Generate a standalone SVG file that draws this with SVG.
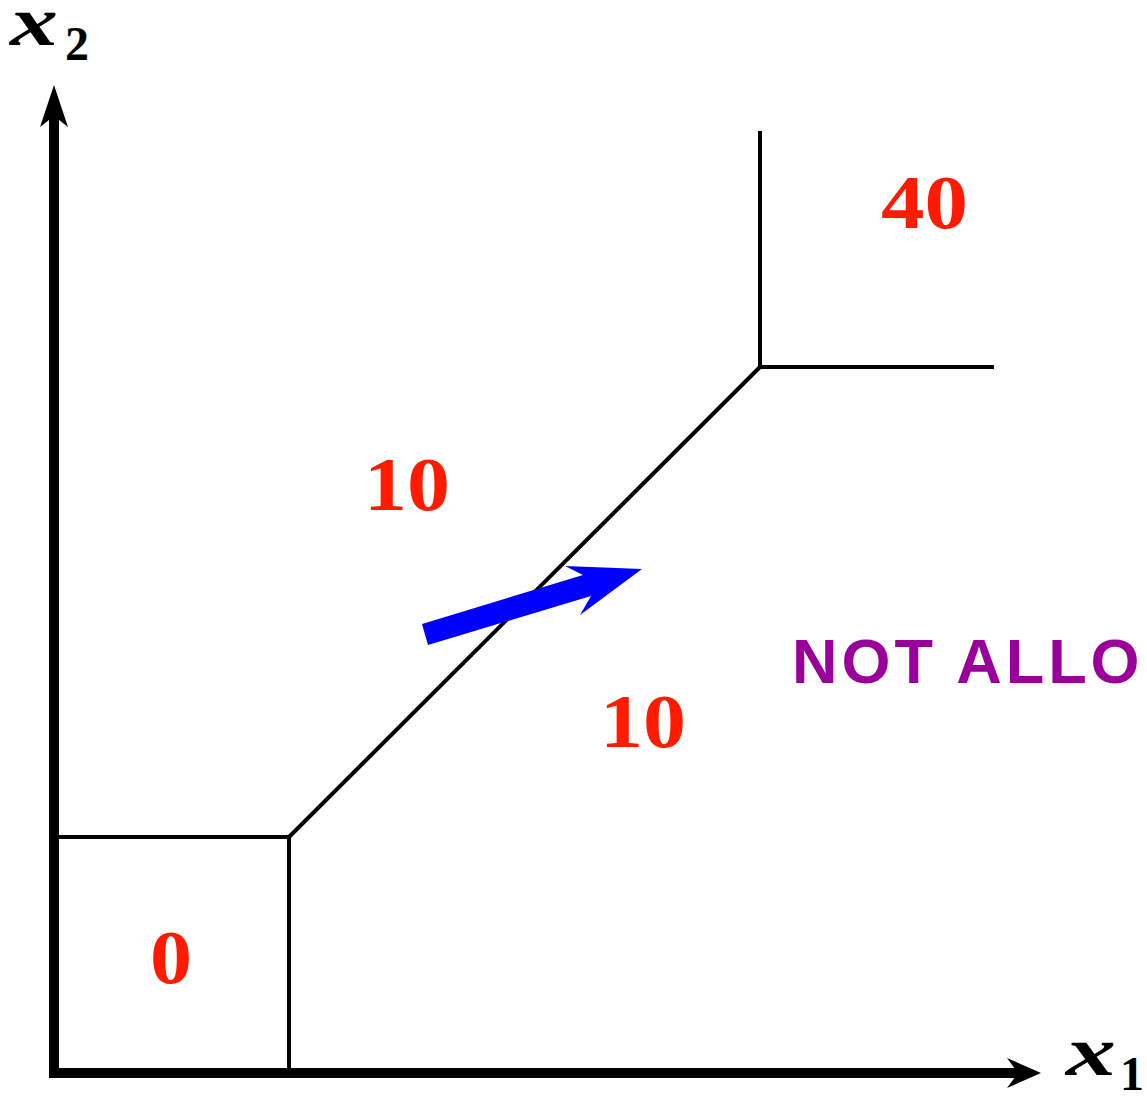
<svg xmlns="http://www.w3.org/2000/svg" width="1147" height="1097" viewBox="0 0 1147 1097">
<style>
.axis{stroke:#000;stroke-width:10;fill:none}
.ln{stroke:#000;stroke-width:4;fill:none}
.num{font-family:"Liberation Serif",serif;font-weight:bold;font-size:76px;fill:#ff1a00}
.var{font-family:"Liberation Serif",serif;font-weight:bold;font-style:italic;font-size:70px;fill:#000}
.sub{font-family:"Liberation Serif",serif;font-weight:bold;font-size:48px;fill:#000}
</style>
<rect width="1147" height="1097" fill="#fff"/>
<g id="connectors">
<line class="axis" x1="54" y1="1078" x2="54" y2="110"/>
<line class="axis" x1="49" y1="1073" x2="1020" y2="1073"/>
<polygon points="54,85 68,127 54,116 40,127" fill="#000"/>
<polygon points="1041,1073 1007,1058 1018,1073 1007,1088" fill="#000"/>
<polyline class="ln" points="59,837 289,837 289,1073"/>
<line class="ln" x1="289" y1="837" x2="760" y2="367"/>
<line class="ln" x1="760" y1="131" x2="760" y2="367"/>
<line class="ln" x1="758" y1="367" x2="994" y2="367"/>
<polygon points="422,624 583,575 565,566 642,569 580,615 591,596 428,645" fill="#0000ff"/>
</g>
<g id="label-x2"><text class="var" x="10" y="45" textLength="48" lengthAdjust="spacingAndGlyphs">x</text><text class="sub" x="65" y="60">2</text></g>
<g id="label-x1"><text class="var" x="1066" y="1075" textLength="50" lengthAdjust="spacingAndGlyphs">x</text><text class="sub" x="1120" y="1090">1</text></g>
<g id="region-0"><text class="num" x="150" y="983" textLength="42" lengthAdjust="spacingAndGlyphs">0</text></g>
<g id="region-10a"><text class="num" x="364" y="510" textLength="86" lengthAdjust="spacingAndGlyphs">10</text></g>
<g id="region-10b"><text class="num" x="600" y="747" textLength="86" lengthAdjust="spacingAndGlyphs">10</text></g>
<g id="region-40"><text class="num" x="881" y="228" textLength="87" lengthAdjust="spacingAndGlyphs">40</text></g>
<g id="not-allowed"><text x="792" y="683" font-family="'Liberation Sans',sans-serif" font-weight="bold" font-size="63" letter-spacing="4" fill="#990099">NOT ALLO</text></g>
</svg>
